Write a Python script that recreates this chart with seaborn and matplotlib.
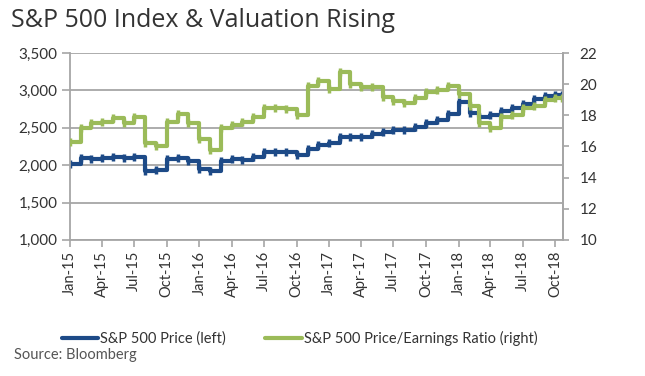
import matplotlib
matplotlib.use("Agg")
import matplotlib.pyplot as plt
from matplotlib.lines import Line2D
import seaborn as sns
import pandas as pd

# ---- data (monthly, Jan-2015 .. Oct-2018) ----
months = list(pd.date_range("2015-01-01", "2018-10-01", freq="MS")) + [pd.Timestamp("2018-10-20")]
price = [2020, 2100, 2080, 2100, 2110, 2100, 2110, 1920, 1930, 2080, 2090, 2060,
         1950, 1920, 2060, 2080, 2075, 2110, 2170, 2180, 2170, 2130, 2210, 2270,
         2300, 2370, 2370, 2380, 2420, 2440, 2470, 2470, 2510, 2570, 2600, 2690,
         2840, 2700, 2650, 2670, 2720, 2770, 2820, 2880, 2920, 2940]
pe = [16.3, 17.2, 17.5, 17.6, 17.8, 17.5, 17.9, 16.2, 16.0, 17.6, 18.1, 17.5,
      16.5, 15.8, 17.2, 17.4, 17.6, 17.9, 18.5, 18.5, 18.4, 18.0, 19.9, 20.2,
      19.7, 20.8, 20.0, 19.8, 19.8, 19.2, 18.9, 18.8, 19.1, 19.5, 19.6, 19.9,
      19.4, 18.6, 17.5, 17.2, 17.9, 18.0, 18.5, 18.6, 19.0, 19.1]
price = price + [price[-1]]
pe = pe + [pe[-1]]
tick_dates = list(pd.date_range("2015-01-01", "2018-10-01", freq="QS"))
tick_labels = [d.strftime("%b-%y") for d in tick_dates]
left_ticks = [1000, 1500, 2000, 2500, 3000, 3500]
right_ticks = [10, 12, 14, 16, 18, 20, 22]

df = pd.DataFrame({"date": months, "price": price, "pe": pe})

sns.set_theme(style="white")
plt.rcParams["font.family"] = ["Lato", "DejaVu Sans"]

BLUE = "#1d4a87"
GREEN = "#9bbb59"
GRID = "#a6a6a6"
TXT = "#333333"

fig = plt.figure(figsize=(6.45, 3.76), dpi=100)
ax = fig.add_axes([0.1085, 0.362, 0.764, 0.497])
ax2 = ax.twinx()

sns.lineplot(data=df, x="date", y="price", ax=ax, color=BLUE, linewidth=3,
             drawstyle="steps-post", marker="|", markersize=6, markeredgewidth=2.5,
             markeredgecolor=BLUE, legend=False)
sns.lineplot(data=df, x="date", y="pe", ax=ax2, color=GREEN, linewidth=3,
             drawstyle="steps-post", marker="|", markersize=6, markeredgewidth=2.5,
             markeredgecolor=GREEN, legend=False)

ax.set_xlim(pd.Timestamp("2015-01-01"), pd.Timestamp("2018-10-22"))
ax.set_ylim(1000, 3500)
ax2.set_ylim(10, 22)
ax.set_yticks(left_ticks)
ax.set_yticklabels([f"{v:,}" for v in left_ticks])
ax2.set_yticks(right_ticks)
ax2.set_yticklabels([str(v) for v in right_ticks])
ax.set_xticks(tick_dates)
ax.set_xticklabels(tick_labels, rotation=90)

ax.set_xlabel("")
ax.set_ylabel("")
ax2.set_ylabel("")

for a in (ax, ax2):
    a.spines["top"].set_visible(False)
    for s in ("left", "right", "bottom"):
        a.spines[s].set_color(GRID)
        a.spines[s].set_linewidth(1.3)
    a.grid(False)

ax.yaxis.grid(True, color=GRID, linewidth=1.3)
ax.set_axisbelow(True)
ax.tick_params(axis="y", direction="out", length=6, width=1.2, color=GRID,
               labelsize=11, labelcolor=TXT, pad=3, left=True)
ax.tick_params(axis="x", direction="out", length=5, width=1.2, color=GRID,
               labelsize=10.5, labelcolor=TXT, pad=3, bottom=True)
ax2.tick_params(axis="y", direction="out", length=4, width=1.2, color=GRID,
                labelsize=11, labelcolor=TXT, pad=8, right=True)
ax2.spines["bottom"].set_visible(False)
ax2.spines["left"].set_visible(False)

fig.text(0.017, 0.945, "S&P 500 Index & Valuation Rising", fontsize=18,
         color=TXT, ha="left", va="center", family=["Open Sans", "DejaVu Sans"])
fig.text(0.022, 0.055, "Source: Bloomberg", fontsize=10.5, color="#555555",
         ha="left", va="center")

handles = [Line2D([0], [0], color=BLUE, linewidth=3),
           Line2D([0], [0], color=GREEN, linewidth=3)]
fig.legend(handles, ["S&P 500 Price (left)", "S&P 500 Price/Earnings Ratio (right)"],
           loc="center left", bbox_to_anchor=(0.075, 0.1), ncol=2, frameon=False,
           fontsize=10.5, handlelength=2.5, handletextpad=0.15, columnspacing=2.7,
           labelcolor=TXT)

fig.savefig("out.png", dpi=100)
